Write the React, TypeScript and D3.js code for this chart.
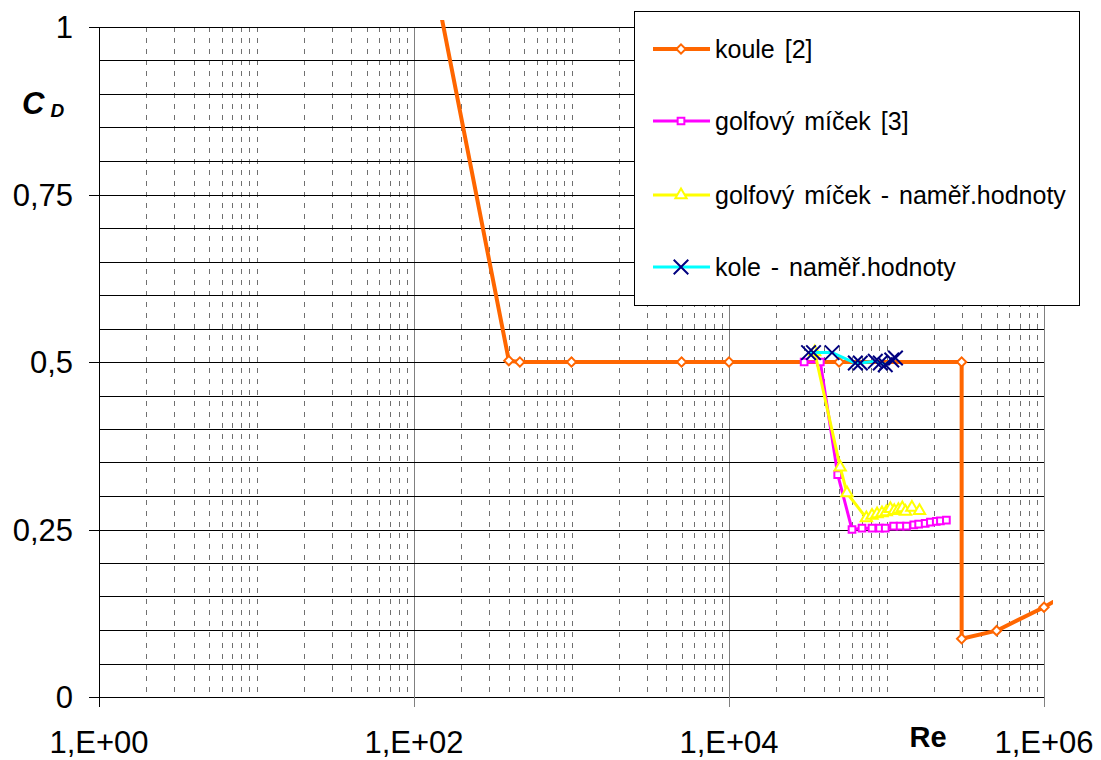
import React, { useEffect, useRef } from "react";
import * as d3 from "d3";

// koule [2]
const kouleRe = [100, 400, 470, 1000, 5000, 10000, 50000, 300000, 300000, 500000, 1000000, 2000000];
const kouleCd = [1.225, 0.502, 0.5, 0.5, 0.5, 0.5, 0.5, 0.5, 0.087, 0.099, 0.134, 0.175];

// golfový míček [3]
const golfRe = [30000, 38000, 49000, 60400, 69900, 80900, 90400, 98200, 111000, 122000, 134000, 149000, 160000, 176000, 190000, 207000, 220000, 240000];
const golfCd = [0.5, 0.5, 0.332, 0.25, 0.252, 0.252, 0.252, 0.252, 0.255, 0.255, 0.255, 0.257, 0.258, 0.259, 0.261, 0.262, 0.263, 0.264];

// golfový míček - naměř.hodnoty
const golfMerRe = [35000, 50800, 56100, 74500, 80900, 87100, 93600, 99700, 105800, 112000, 119000, 126000, 132000, 145000, 162000];
const golfMerCd = [0.515, 0.343, 0.3045, 0.267, 0.271, 0.273, 0.2746, 0.276, 0.281, 0.278, 0.2795, 0.282, 0.277, 0.283, 0.278];

// kole - naměř.hodnoty
const koleRe = [32000, 34400, 45100, 63400, 68200, 84900, 91300, 98200, 108000, 114000];
const koleCd = [0.514, 0.514, 0.514, 0.4985, 0.4985, 0.501, 0.4985, 0.496, 0.503, 0.506];

const xTicks = [1, 100, 10000, 1000000];
const xTickLabels = ["1,E+00", "1,E+02", "1,E+04", "1,E+06"];
const yTicks = [0, 0.25, 0.5, 0.75, 1];
const yTickLabels = ["0", "0,25", "0,5", "0,75", "1"];

const seriesNames = ["koule [2]", "golfový míček [3]", "golfový míček - naměř.hodnoty", "kole - naměř.hodnoty"];

function Chart() {
    const ref = useRef<SVGSVGElement | null>(null);

    useEffect(() => {
        const width = 1101;
        const height = 760;
        const marginLeft = 99;
        const marginRight = 57;
        const marginTop = 27;
        const marginBottom = 63;
        const font = "'Liberation Sans', Arial, sans-serif";

        const svg = d3.select(ref.current);
        svg.selectAll("*").remove();

        const x = d3.scaleLog().domain([1, 1e6]).range([marginLeft, width - marginRight]);
        const y = d3.scaleLinear().domain([0, 1]).range([height - marginBottom, marginTop]);

        // minor vertical grid (dashed)
        const minors: number[] = [];
        for (let e = 0; e < 6; e++) {
            for (let m = 2; m <= 10; m++) {
                const v = m * Math.pow(10, e);
                if (!xTicks.includes(v)) minors.push(v);
            }
        }
        svg.append("g")
            .selectAll("line")
            .data(minors)
            .join("line")
            .attr("x1", d => Math.round(x(d)) + 0.5)
            .attr("x2", d => Math.round(x(d)) + 0.5)
            .attr("y1", y(1))
            .attr("y2", y(0))
            .attr("stroke", "#707070")
            .attr("stroke-width", 1)
            .attr("stroke-dasharray", "5,6");

        // major vertical grid
        svg.append("g")
            .selectAll("line")
            .data(xTicks.slice(1))
            .join("line")
            .attr("x1", d => Math.round(x(d)) + 0.5)
            .attr("x2", d => Math.round(x(d)) + 0.5)
            .attr("y1", y(1))
            .attr("y2", y(0))
            .attr("stroke", "#808080")
            .attr("stroke-width", 1);

        // horizontal grid every 0.05
        svg.append("g")
            .selectAll("line")
            .data(d3.range(1, 21).map(i => i * 0.05))
            .join("line")
            .attr("x1", x(1))
            .attr("x2", x(1e6))
            .attr("y1", d => Math.round(y(d)) + 0.5)
            .attr("y2", d => Math.round(y(d)) + 0.5)
            .attr("stroke", "#000")
            .attr("stroke-width", 1);

        // y axis
        const yAxis = svg.append("g");
        yAxis.append("line")
            .attr("x1", Math.round(x(1)) + 0.5).attr("x2", Math.round(x(1)) + 0.5)
            .attr("y1", y(1)).attr("y2", y(0) + 10)
            .attr("stroke", "#000");
        yAxis.selectAll("line.tick")
            .data(yTicks)
            .join("line")
            .attr("class", "tick")
            .attr("x1", x(1) - 10).attr("x2", x(1))
            .attr("y1", d => Math.round(y(d)) + 0.5)
            .attr("y2", d => Math.round(y(d)) + 0.5)
            .attr("stroke", "#000");
        yAxis.selectAll("text")
            .data(yTicks)
            .join("text")
            .attr("x", 73)
            .attr("y", d => y(d))
            .attr("dy", "0.36em")
            .attr("text-anchor", "end")
            .attr("font-family", font)
            .attr("font-size", 31)
            .text((d, i) => yTickLabels[i]);

        // x axis
        const xAxis = svg.append("g");
        xAxis.append("line")
            .attr("x1", x(1)).attr("x2", x(1e6))
            .attr("y1", Math.round(y(0)) + 0.5).attr("y2", Math.round(y(0)) + 0.5)
            .attr("stroke", "#000");
        xAxis.selectAll("line.tick")
            .data(xTicks)
            .join("line")
            .attr("class", "tick")
            .attr("x1", d => Math.round(x(d)) + 0.5)
            .attr("x2", d => Math.round(x(d)) + 0.5)
            .attr("y1", y(0)).attr("y2", y(0) + 10)
            .attr("stroke", d => d === 1 ? "#000" : "#808080");
        xAxis.selectAll("text")
            .data(xTicks)
            .join("text")
            .attr("x", d => x(d))
            .attr("y", 753)
            .attr("text-anchor", "middle")
            .attr("font-family", font)
            .attr("font-size", 31)
            .text((d, i) => xTickLabels[i]);

        // axis titles
        svg.append("text")
            .attr("x", 928)
            .attr("y", 747)
            .attr("text-anchor", "middle")
            .attr("font-family", font)
            .attr("font-weight", "bold")
            .attr("font-size", 29)
            .text("Re");
        const cd = svg.append("text")
            .attr("x", 22)
            .attr("y", 114)
            .attr("font-family", font)
            .attr("font-weight", "bold")
            .attr("font-style", "italic")
            .attr("font-size", 31);
        cd.append("tspan").text("C");
        cd.append("tspan").attr("dx", 6).attr("dy", 3).attr("font-size", 19).text("D");

        // series
        svg.append("defs").append("clipPath").attr("id", "plot-clip")
            .append("rect")
            .attr("x", x(1) - 8)
            .attr("y", y(1) - 7)
            .attr("width", x(1e6) - x(1) + 17)
            .attr("height", y(0) - y(1) + 15);

        const plot = svg.append("g").attr("clip-path", "url(#plot-clip)");
        const line = d3.line<[number, number]>()
            .x(d => x(d[0]))
            .y(d => y(d[1]));

        const diamond = d3.symbol().type(d3.symbolDiamond2).size(55);
        const square = d3.symbol().type(d3.symbolSquare).size(45);
        const triangle = d3.symbol().type(d3.symbolTriangle).size(55);
        const cross = d3.symbol().type(d3.symbolX).size(140);

        const series = [
            { re: kouleRe, cd: kouleCd, color: "#FF6600", width: 4, sym: diamond, mStroke: "#FF6600", mFill: "#fff" },
            { re: golfRe, cd: golfCd, color: "#FF00FF", width: 3, sym: square, mStroke: "#FF00FF", mFill: "#fff" },
            { re: golfMerRe, cd: golfMerCd, color: "#FFFF00", width: 3, sym: triangle, mStroke: "#FFFF00", mFill: "#fff" },
            { re: koleRe, cd: koleCd, color: "#00FFFF", width: 3, sym: cross, mStroke: "#000080", mFill: "none" },
        ];

        series.forEach(s => {
            const pts: [number, number][] = s.re.map((r, i) => [r, s.cd[i]]);
            plot.append("path")
                .attr("d", line(pts))
                .attr("fill", "none")
                .attr("stroke", s.color)
                .attr("stroke-width", s.width)
                .attr("stroke-linejoin", "round");
            plot.append("g")
                .selectAll("path")
                .data(pts.filter(p => p[1] <= 1))
                .join("path")
                .attr("d", s.sym)
                .attr("transform", p => `translate(${x(p[0])},${y(p[1])})`)
                .attr("fill", s.mFill)
                .attr("stroke", s.mStroke)
                .attr("stroke-width", 2);
        });

        // legend
        const legend = svg.append("g");
        legend.append("rect")
            .attr("x", 634.5).attr("y", 11.5)
            .attr("width", 445).attr("height", 294)
            .attr("fill", "#fff")
            .attr("stroke", "#000");
        const rowY = [49, 121, 195, 267];
        series.forEach((s, i) => {
            legend.append("line")
                .attr("x1", 653).attr("x2", 710)
                .attr("y1", rowY[i]).attr("y2", rowY[i])
                .attr("stroke", s.color)
                .attr("stroke-width", s.width);
            legend.append("path")
                .attr("d", s.sym)
                .attr("transform", `translate(681,${rowY[i]})`)
                .attr("fill", s.mFill)
                .attr("stroke", s.mStroke)
                .attr("stroke-width", 2);
            legend.append("text")
                .attr("x", 715)
                .attr("y", rowY[i])
                .attr("dy", "0.36em")
                .attr("font-family", font)
                .attr("font-size", 25)
                .attr("word-spacing", 3)
                .text(seriesNames[i]);
        });
    }, []);

    return <svg ref={ref} width={1101} height={760} style={{ display: "block" }} />;
}

export default function App() {
    return (
        <div style={{ position: "absolute", left: 0, top: 0, background: "#fff" }}>
            <Chart />
        </div>
    );
}
